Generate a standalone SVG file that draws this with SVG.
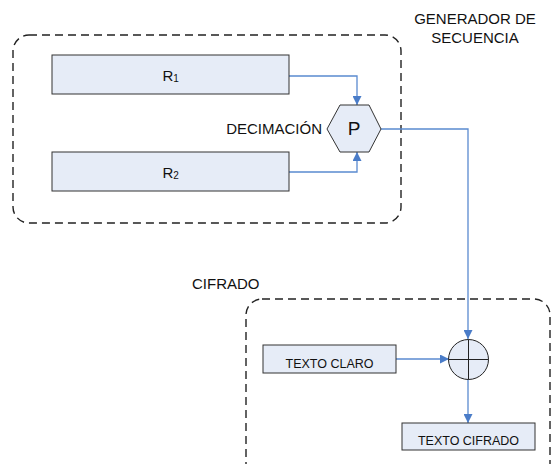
<svg xmlns="http://www.w3.org/2000/svg" width="552" height="464" viewBox="0 0 552 464">
  <defs>
    <marker id="arrow" viewBox="0 0 10 10" refX="10" refY="5" markerWidth="9" markerHeight="9" markerUnits="userSpaceOnUse" orient="auto">
      <path d="M0,0 L10,5 L0,10 Z" fill="#4a7cc8"/>
    </marker>
  </defs>
  <style>
    .frame { fill: none; stroke: #222; stroke-width: 1.4; stroke-dasharray: 8 5; }
    .box { fill: #e6ecf7; stroke: #333; stroke-width: 1; }
    .wire { fill: none; stroke: #5a8ad0; stroke-width: 1.3; }
    .lbl { font-family: "Liberation Sans", Arial, sans-serif; font-size: 15px; fill: #111; }
    .small { font-family: "Liberation Sans", Arial, sans-serif; font-size: 12.5px; fill: #111; }
  </style>
  <rect width="552" height="464" fill="#fff"/>

  <!-- group frames -->
  <g id="generador">
    <rect class="frame" x="13" y="35" width="388" height="188" rx="16"/>
    <text class="lbl" x="475" y="24" text-anchor="middle">GENERADOR DE</text>
    <text class="lbl" x="475" y="43" text-anchor="middle">SECUENCIA</text>
  </g>
  <g id="cifrado">
    <rect class="frame" x="246" y="299" width="304" height="190" rx="16"/>
    <text class="lbl" x="192" y="289">CIFRADO</text>
  </g>

  <!-- connectors -->
  <g id="connectors">
    <path class="wire" d="M289,76 H357 V105" marker-end="url(#arrow)"/>
    <path class="wire" d="M289,172 H357 V152" marker-end="url(#arrow)"/>
    <path class="wire" d="M381,129 H468 V339" marker-end="url(#arrow)"/>
    <path class="wire" d="M396,359 H449" marker-end="url(#arrow)"/>
    <path class="wire" d="M468,379 V423" marker-end="url(#arrow)"/>
  </g>

  <!-- registers -->
  <g id="r1">
    <rect class="box" x="52" y="55" width="237" height="39"/>
    <text class="lbl" x="162.5" y="81">R<tspan font-size="10" dy="1">1</tspan></text>
  </g>
  <g id="r2">
    <rect class="box" x="52" y="152" width="237" height="39"/>
    <text class="lbl" x="162.5" y="178">R<tspan font-size="10" dy="1">2</tspan></text>
  </g>

  <!-- decimation -->
  <g id="decimacion">
    <polygon class="box" points="327,129 340,105 369,105 381,129 369,152 340,152"/>
    <text x="354" y="135" text-anchor="middle" font-family="Liberation Sans, Arial, sans-serif" font-size="19" fill="#111">P</text>
    <text class="lbl" x="322" y="133.5" text-anchor="end">DECIMACIÓN</text>
  </g>

  <!-- xor -->
  <g id="xor">
    <circle cx="468.5" cy="359.5" r="20" fill="#e6ecf7" stroke="#222" stroke-width="1"/>
    <path d="M448.5,359.5 H488.5 M468.5,339.5 V379.5" stroke="#222" stroke-width="1"/>
  </g>

  <g id="texto-claro">
    <rect class="box" x="263" y="345" width="133" height="28"/>
    <text class="small" x="329.5" y="368" text-anchor="middle">TEXTO CLARO</text>
  </g>
  <g id="texto-cifrado">
    <rect class="box" x="402" y="423" width="133" height="27"/>
    <text class="small" x="468.5" y="445" text-anchor="middle">TEXTO CIFRADO</text>
  </g>
</svg>
